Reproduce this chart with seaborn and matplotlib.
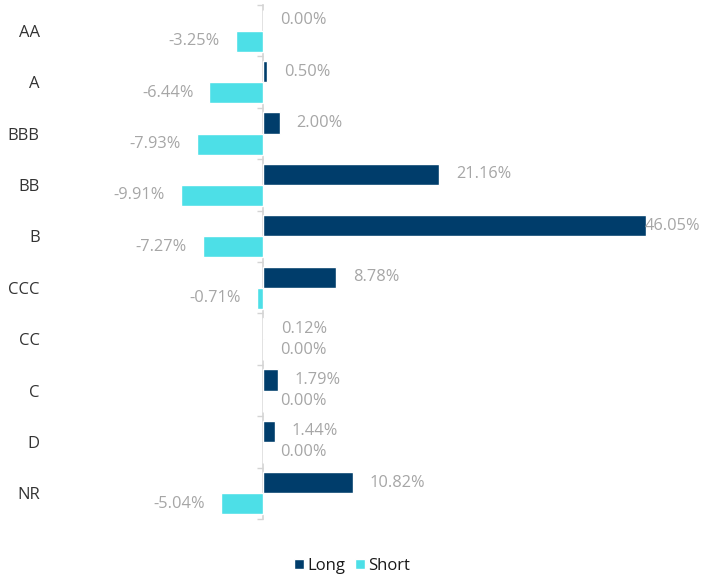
import matplotlib
matplotlib.use('Agg')
import matplotlib.pyplot as plt
import seaborn as sns
import pandas as pd

categories = ['AA', 'A', 'BBB', 'BB', 'B', 'CCC', 'CC', 'C', 'D', 'NR']
long_vals = [0.00, 0.50, 2.00, 21.16, 46.05, 8.78, 0.12, 1.79, 1.44, 10.82]
short_vals = [-3.25, -6.44, -7.93, -9.91, -7.27, -0.71, 0.00, 0.00, 0.00, -5.04]
series = ['Long', 'Short']
colors = ['#003D6B', '#4DDFE7']

sns.set_theme(style='white')
plt.rcParams['font.family'] = ['Open Sans', 'DejaVu Sans']

df = pd.DataFrame({
    'Rating': categories * 2,
    'Value': long_vals + short_vals,
    'Series': ['Long'] * len(categories) + ['Short'] * len(categories),
})

W, H = 702, 574
fig = plt.figure(figsize=(W / 100, H / 100), dpi=100)
x0px = 263
scale = (646 - 263) / 46.05
left_px, right_px = 48, 700
top_px, bot_px = 5, 519
ax = fig.add_axes([left_px / W, 1 - bot_px / H, (right_px - left_px) / W, (bot_px - top_px) / H])

sns.barplot(data=df, y='Rating', x='Value', hue='Series', order=categories,
            hue_order=series, palette=colors, orient='h', width=0.82,
            saturation=1, ax=ax, legend=True, errorbar=None)

xmin = -(x0px - left_px) / scale
xmax = (right_px - x0px) / scale
ax.set_xlim(xmin, xmax)
ax.set_ylim(len(categories) - 0.5, -0.5)

for s in ax.spines.values():
    s.set_visible(False)
ax.set_xticks([])
ax.set_xlabel('')
ax.set_ylabel('')
ax.tick_params(axis='y', length=0, pad=6, labelsize=12, labelcolor='#333333')

# vertical category axis at zero
sec = ax.secondary_yaxis((0 - xmin) / (xmax - xmin))
bounds = [i - 0.5 for i in range(len(categories) + 1)]
sec.set_yticks(bounds)
sec.set_yticklabels([''] * len(bounds))
sec.tick_params(axis='y', length=4, width=1, color='#d4d4d4', direction='out')
sec.spines['left'].set_color('#d4d4d4')
sec.spines['left'].set_linewidth(1.2)

# value labels
anns = []
for cont, vals in zip(ax.containers, [long_vals, short_vals]):
    for p, v in zip(cont.patches, vals):
        yc = p.get_y() + p.get_height() / 2
        if v >= 0:
            a = ax.annotate(f'{v:.2f}%', xy=(v, yc), xytext=(12.2, 0), textcoords='offset points',
                            ha='left', va='center', fontsize=11.8, color='#a6a6a6', annotation_clip=False)
        else:
            a = ax.annotate(f'{v:.2f}%', xy=(v, yc), xytext=(-11.5, 0), textcoords='offset points',
                            ha='right', va='center', fontsize=11.8, color='#a6a6a6', annotation_clip=False)
        anns.append((a, yc))

fig.canvas.draw()
renderer = fig.canvas.get_renderer()
for a, yc in anns:
    bb = a.get_window_extent(renderer)
    if bb.x1 > right_px:
        a.xy = (xmax, yc)
        a.set_position((0, 0))
        a.set_ha('right')

handles, labels = ax.get_legend_handles_labels()
ax.get_legend().remove()
fig.legend(handles, labels, loc='center', bbox_to_anchor=(352 / W, 1 - 566 / H), ncol=2,
           frameon=False, handlelength=0.6, handleheight=0.6, handletextpad=0.2,
           columnspacing=0.6, fontsize=12, labelcolor='#1a1a1a')

fig.savefig('out.png', dpi=100)
